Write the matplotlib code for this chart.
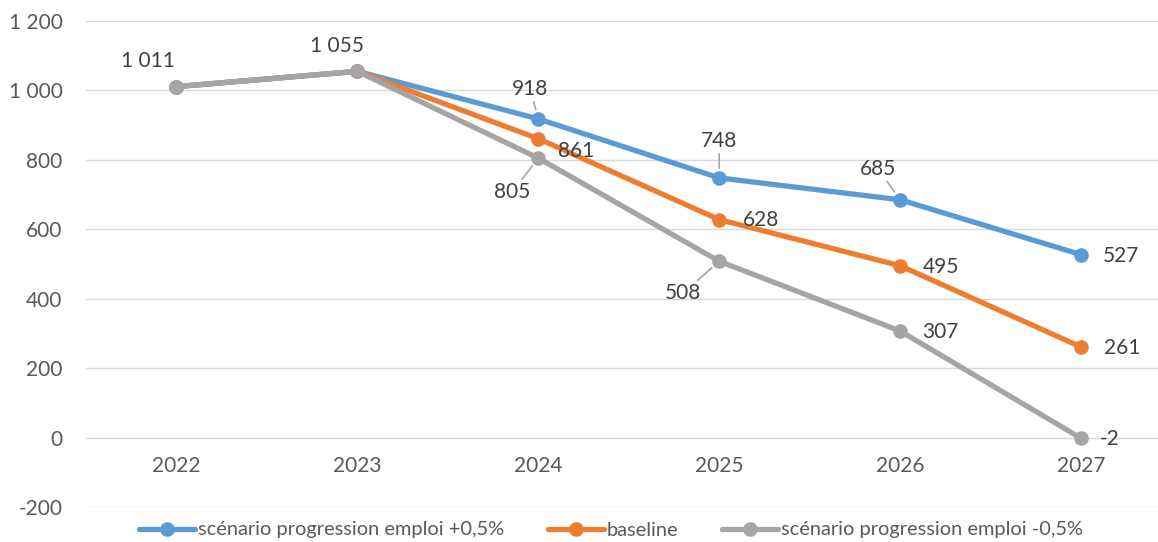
import matplotlib
matplotlib.use("Agg")
import matplotlib.pyplot as plt
from matplotlib.ticker import FuncFormatter

years = ["2022", "2023", "2024", "2025", "2026", "2027"]
plus = [1011, 1055, 918, 748, 685, 527]
base = [1011, 1055, 861, 628, 495, 261]
minus = [1011, 1055, 805, 508, 307, -2]
names = ["scénario progression emploi +0,5%", "baseline", "scénario progression emploi -0,5%"]
colors = ["#5B9BD5", "#ED7D31", "#A5A5A5"]

# label placement (offset in pixels, leader line flag) per series / point
label_style = {
    0: {2: ((-8, 30), True), 3: ((0, 37), True), 4: ((-22, 31), True), 5: ((40, -1), False)},
    1: {2: ((38, -12), False), 3: ((42, 0), False), 4: ((41, -1), False), 5: ((41, -1), False)},
    2: {0: ((-29, 26), False), 1: ((-20, 25), False), 2: ((-26, -34), True), 3: ((-36, -32), True),
        4: ((40, -1), False), 5: ((29, -1), False)},
}

plt.rcParams["font.family"] = ["Lato", "DejaVu Sans"]
fig = plt.figure(figsize=(11.58, 5.42), dpi=100)
ax = fig.add_axes([86 / 1158, 1 - 507 / 542, 1 - 86 / 1158, (507 - 21) / 542])

x = list(range(len(years)))
series = [plus, base, minus]
for s, vals in enumerate(series):
    ax.plot(x, vals, color=colors[s], lw=3.8, marker="o", ms=9.5, label=names[s],
            solid_capstyle="round", zorder=3 + s)


def fmt(v):
    return f"{v:,.0f}".replace(",", " ")


for s, vals in enumerate(series):
    for i, (off, leader) in label_style[s].items():
        kw = {}
        if leader:
            kw["arrowprops"] = dict(arrowstyle="-", color="#A5A5A5", lw=1.2, shrinkA=0, shrinkB=7)
        ax.annotate(fmt(vals[i]), (x[i], vals[i]), xytext=off, textcoords="offset pixels",
                    ha="center", va="center", fontsize=15, color="#404040", zorder=10, **kw)

ax.set_xlim(-0.5, (1158 - 176) / 181)
ax.set_ylim(-200, 1200)
ax.set_yticks(range(-200, 1201, 200))
ax.yaxis.set_major_formatter(FuncFormatter(lambda v, p: fmt(v)))
ax.grid(axis="y", color="#D9D9D9", lw=1)
ax.set_axisbelow(True)
for sp in ["top", "right", "left"]:
    ax.spines[sp].set_visible(False)
ax.spines["bottom"].set_position(("data", 0))
ax.spines["bottom"].set_color("#D9D9D9")
ax.set_xticks(x)
ax.set_xticklabels(years)
ax.tick_params(axis="x", length=0, pad=13, labelsize=15, labelcolor="#595959")
ax.tick_params(axis="y", length=0, pad=17, labelsize=15, labelcolor="#595959")

leg = fig.legend(loc="center", bbox_to_anchor=(611 / 1158, 1 - 530 / 542), ncol=3, frameon=False,
                 fontsize=14.4, handlelength=2.8, handletextpad=0.15, columnspacing=2.2,
                 labelcolor="#595959")

fig.savefig("out.png", dpi=100)
